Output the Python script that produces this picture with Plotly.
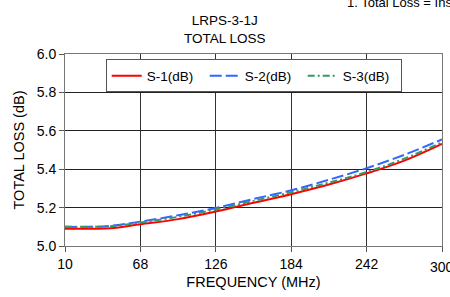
import plotly.graph_objects as go

freq = [10, 30, 45, 68, 97, 126, 155, 184, 213, 242, 271, 300]
s1 = [5.09, 5.09, 5.092, 5.113, 5.14, 5.18, 5.225, 5.27, 5.32, 5.378, 5.445, 5.532]
s2 = [5.10, 5.10, 5.105, 5.127, 5.16, 5.198, 5.245, 5.29, 5.345, 5.405, 5.475, 5.555]
s3 = [5.10, 5.10, 5.103, 5.122, 5.152, 5.19, 5.235, 5.28, 5.33, 5.385, 5.455, 5.54]
names = ["S-1(dB)", "S-2(dB)", "S-3(dB)"]
x_ticks = [10, 68, 126, 184, 242, 300]
y_ticks = [5.0, 5.2, 5.4, 5.6, 5.8, 6.0]

fig = go.Figure()
fig.add_trace(go.Scatter(x=freq, y=s1, name=names[0], mode="lines",
                         line=dict(color="#FF0000", width=2, shape="spline")))
fig.add_trace(go.Scatter(x=freq, y=s2, name=names[1], mode="lines",
                         line=dict(color="#3366FF", width=2, dash="12px,4px", shape="spline")))
fig.add_trace(go.Scatter(x=freq, y=s3, name=names[2], mode="lines",
                         line=dict(color="#339966", width=2, dash="7px,3px,2px,3px", shape="spline")))

font = "Liberation Sans, Arial, sans-serif"
fig.update_layout(
    width=450, height=297,
    margin=dict(l=65, r=8, t=54, b=51),
    paper_bgcolor="white", plot_bgcolor="white",
    font=dict(family=font, size=14, color="black"),
    showlegend=True,
    legend=dict(orientation="h", x=0.108, y=0.972, xanchor="left", yanchor="top",
                bgcolor="white", bordercolor="#555555", borderwidth=1,
                font=dict(size=13.5), entrywidth=53, entrywidthmode="pixels",
                tracegroupgap=0),
    annotations=[
        dict(text="LRPS-3-1J<br>TOTAL LOSS", xref="paper", yref="paper", x=0.424, y=1.13,
             xanchor="center", yanchor="middle", showarrow=False, font=dict(size=13.5)),
        dict(text="1. Total Loss = Insertion Loss + 4.8 dB", xref="paper", yref="paper",
             x=(345 - 65) / 377, y=1.266, xanchor="left", yanchor="middle", showarrow=False,
             font=dict(size=13)),
        dict(text="300", xref="x", yref="paper", x=300, y=-0.055, xanchor="center",
             yanchor="top", showarrow=False, font=dict(size=14)),
    ],
)
fig.update_xaxes(range=[10, 300], tickvals=x_ticks,
                 ticktext=[str(t) for t in x_ticks[:-1]] + [""],
                 ticks="outside", ticklen=5,
                 tickcolor="#555555", showgrid=True, gridcolor="#333333", gridwidth=1,
                 showline=True, linecolor="#777777", linewidth=1, mirror=True,
                 zeroline=False, title=dict(text="FREQUENCY (MHz)", font=dict(size=14.5), standoff=6),
                 tickfont=dict(size=14))
fig.update_yaxes(range=[5.0, 6.0], tickvals=y_ticks, tickformat=".1f", ticks="outside",
                 ticklen=5, tickcolor="#555555", showgrid=True, gridcolor="#222222",
                 gridwidth=1, showline=True, linecolor="#777777", linewidth=1, mirror=True,
                 zeroline=False, title=dict(text="TOTAL LOSS (dB)", font=dict(size=14.5), standoff=8),
                 tickfont=dict(size=14))

fig.write_html("out.html", config={"displayModeBar": False},
               post_script="document.body.style.margin='0';document.body.style.overflow='hidden';")
